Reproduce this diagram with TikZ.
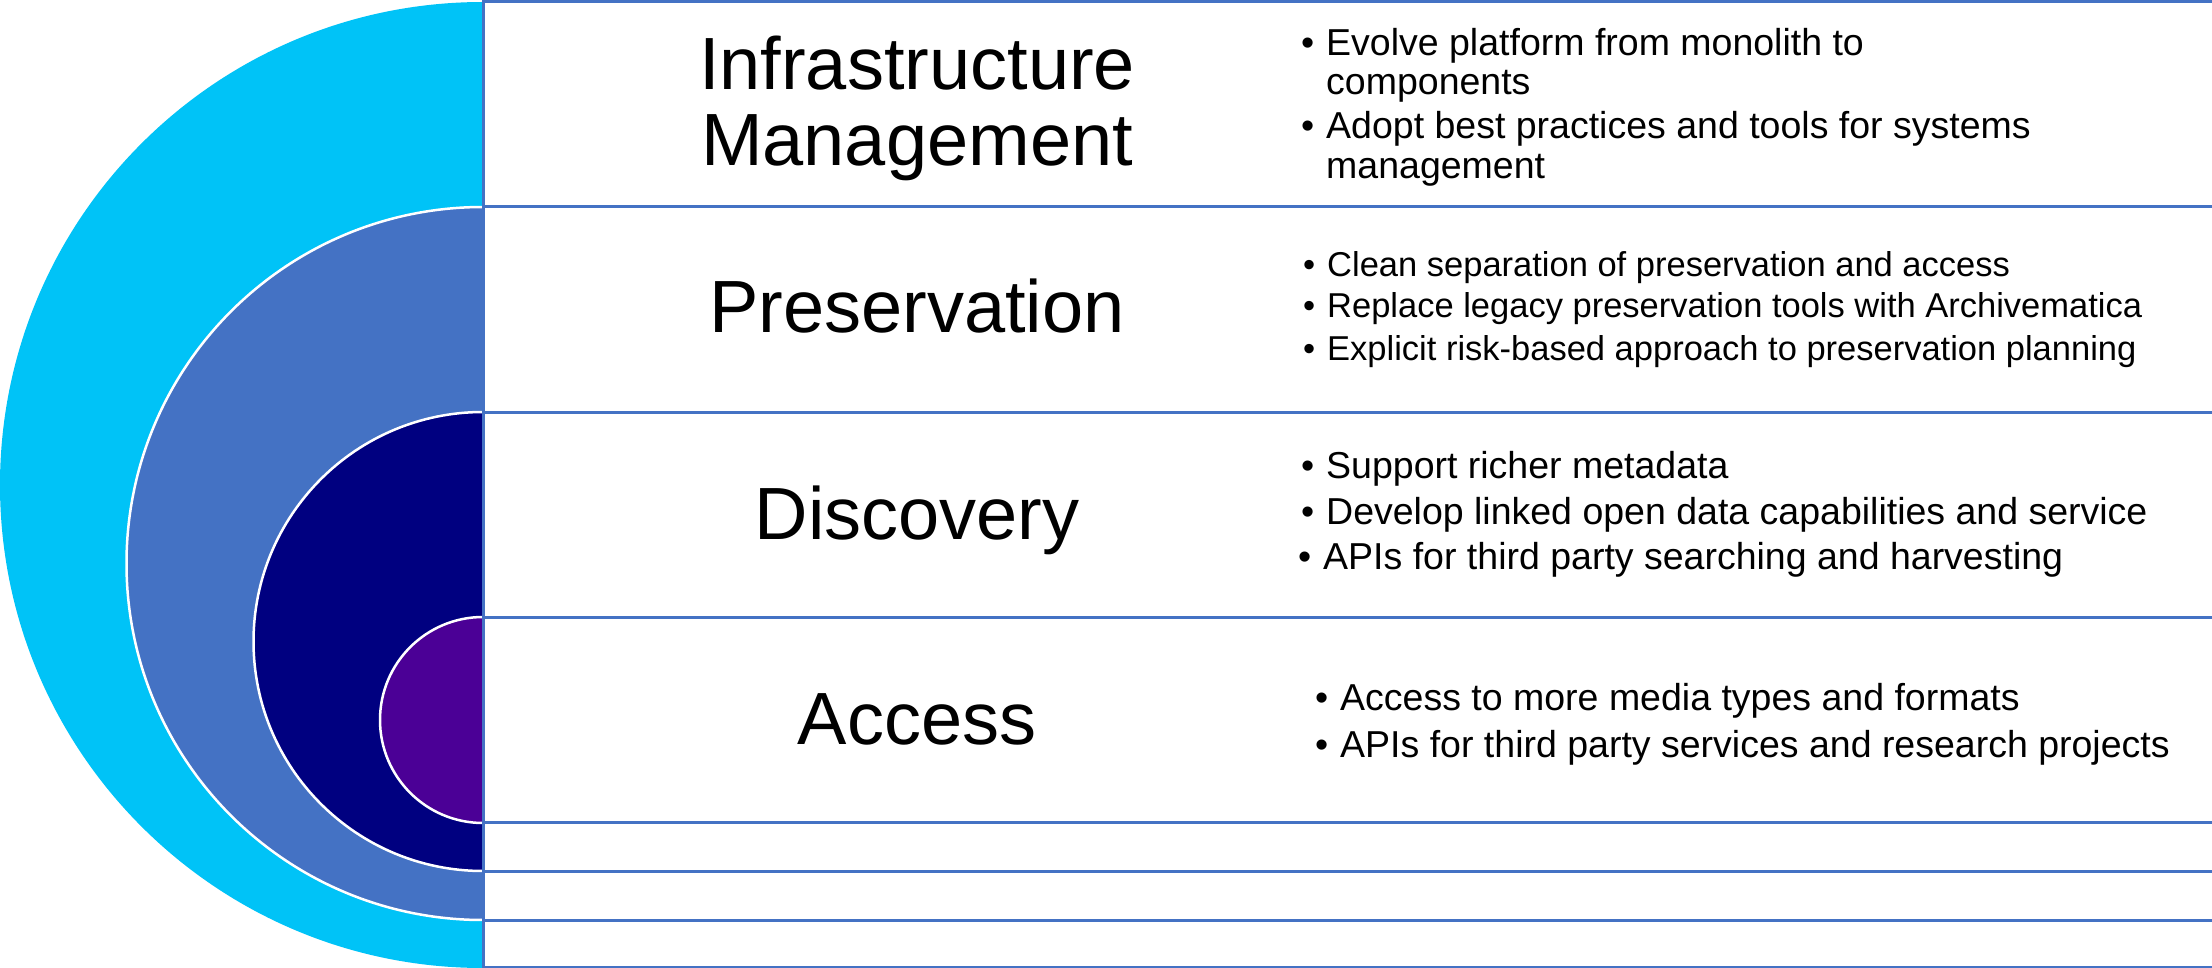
\documentclass[tikz,border=0pt]{standalone}
\usepackage{fontspec}
\setmainfont{Liberation Sans}
\definecolor{ringA}{RGB}{0,195,247}
\definecolor{ringB}{RGB}{68,114,196}
\definecolor{ringC}{RGB}{0,0,128}
\definecolor{ringD}{RGB}{75,0,150}
\definecolor{rulecol}{RGB}{68,114,196}
\tikzset{
  titletext/.style={anchor=base, inner sep=0pt, font=\fontsize{74}{80}\selectfont},
  bline/.style={anchor=base west, inner sep=0pt, font=\fontsize{37.5}{44}\selectfont},
  blinesmall/.style={anchor=base west, inner sep=0pt, font=\fontsize{34.5}{41}\selectfont},
  ringedge/.style={draw=white, line width=2.5pt},
  rowline/.style={draw=rulecol, line width=3pt},
}
\newcommand{\bul}{\llap{•\hspace{12pt}}}
\begin{document}
\begin{tikzpicture}[x=1pt,y=-1pt]
\useasboundingbox (0,0) rectangle (2212,968);
\fill[white] (0,0) rectangle (2212,968);
% nested half circles
\begin{scope}
  \clip (0,0) rectangle (483,968);
  \fill[ringA] (483,485) circle (483);
  \filldraw[fill=ringB, ringedge] (483,563.5) circle (356.5);
  \filldraw[fill=ringC, ringedge] (483,641.5) circle (229.5);
  \filldraw[fill=ringD, ringedge] (483,720) circle (103);
\end{scope}
% table rules
\foreach \yy in {2,207,412,617,822,871,920,967}
  \draw[rowline] (483,\yy) -- (2212,\yy);
\draw[rowline] (483,0) -- (483,968);
% titles
\node[titletext] (tInfA) at (917,90) {Infrastructure};
\node[titletext] (tInfB) at (917,166) {Management};
\node[titletext] (tPres) at (917,333) {Preservation};
\node[titletext] (tDisc) at (917,539) {Discovery};
\node[titletext] (tAcc) at (917,744) {Access};
% infrastructure bullets
\node[bline] (i1) at (1326,56) {\bul Evolve platform from monolith to};
\node[bline] (i2) at (1326,95) {components};
\node[bline] (i3) at (1326,139) {\bul Adopt best practices and tools for systems};
\node[bline] (i4) at (1326,179) {management};
% preservation bullets
\node[blinesmall] (p1) at (1327,277) {\bul Clean separation of preservation and access};
\node[blinesmall] (p2) at (1327,318) {\bul Replace legacy preservation tools with Archivematica};
\node[blinesmall] (p3) at (1327,360) {\bul Explicit risk-based approach to preservation planning};
% discovery bullets
\node[bline] (d1) at (1326,478) {\bul Support richer metadata};
\node[bline] (d2) at (1326,524) {\bul Develop linked open data capabilities and service};
\node[bline] (d3) at (1323,569) {\bul APIs for third party searching and harvesting};
% access bullets
\node[bline] (a1) at (1340,710) {\bul Access to more media types and formats};
\node[bline] (a2) at (1340,757) {\bul APIs for third party services and research projects};
\end{tikzpicture}
\end{document}
